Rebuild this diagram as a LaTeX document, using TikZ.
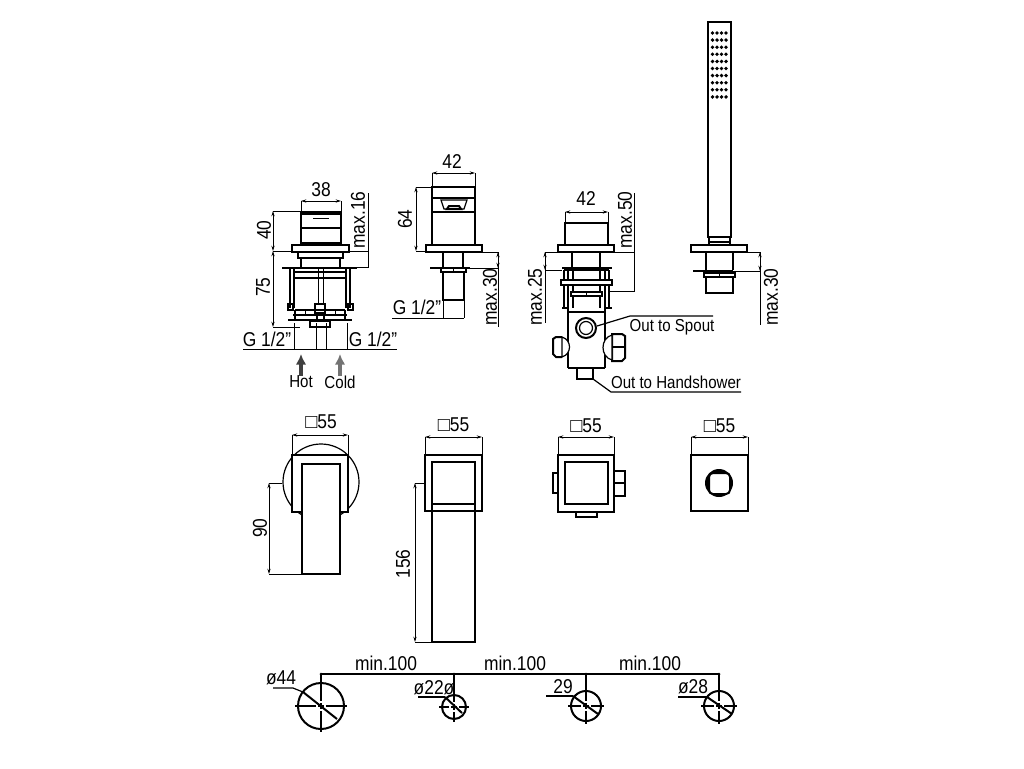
\documentclass[tikz,border=0pt]{standalone}
\usepackage{fontspec}
\setmainfont[FakeStretch=.87]{Liberation Sans}
\newfontfamily\sqfont{Liberation Sans}
\usetikzlibrary{arrows.meta}
\newcommand{\sqm}{{\sqfont □}}
\tikzset{l/.style={font=\fontsize{15}{15}\selectfont, inner sep=0pt}}
\tikzset{t/.style={l, font=\fontsize{13}{13}\selectfont}}
\tikzset{v/.style={l, rotate=90}}
\tikzset{hv/.style={line width=1.5pt}}
\tikzset{md/.style={line width=.9pt}}
\tikzset{dm/.style={line width=.6pt}}
\tikzset{dmA/.style={dm, <->, >={Stealth[length=4pt,width=2.4pt]}}}
\begin{document}
\begin{tikzpicture}[x=.75pt, y=-.75pt]
  \useasboundingbox (0,0) rectangle (1024,768);
  % first mixer, side view
  \begin{scope}
    \draw [hv] (301,212) rectangle (341,243);
    \draw [hv] (301,214) -- (341,214);
    \draw [md] (301,228) -- (341,228);
    \draw [dm] (313,218) -- (329,218);
    \draw [md] (292,245) rectangle (349,252);
    \draw [md] (298,252) rectangle (343,258);
    \draw [md] (301,258) -- (301,267) (340,258) -- (340,267);
    \draw [hv] (282,268) -- (357,268);
    \draw [md] (290,268) -- (290,308) (294,268) -- (294,308);
    \draw [md] (346,268) -- (346,308) (350,268) -- (350,308);
    \draw [hv] (294,278) -- (346,278);
    \draw [md] (294,272) -- (346,272);
    \draw [md] (318.5,268) -- (318.5,305) (323.5,268) -- (323.5,305);
    \draw [md] (288,304) rectangle (293,310) (348,304) rectangle (353,310);
    \draw [md] (315,304) rectangle (325,313);
    \draw [md] (295,310) -- (345,310) (293,315) -- (347,315);
    \draw [md] (295,310) -- (295,320) (345,310) -- (345,320);
    \draw [hv] (288,320) -- (352,320);
    \draw [md] (310,321) rectangle (330,327);
    \draw [hv] (317,313) -- (317,322) (324,313) -- (324,322);
    \draw [dm] (305,310) -- (305,315) (335,310) -- (335,315);
  \end{scope}
  \node [l] (l38) at (321,190) {38};
  \draw [dmA] (301,201) -- (341,201);
  \draw [dm] (301,201) -- (301,212) (341,201) -- (341,212);
  \node [v] (l40) at (264,230) {40};
  \node [v] (l75) at (263,287) {75};
  \node [v] (lmax16) at (358,220) {max.16};
  \draw [dmA] (273,211) -- (273,251);
  \draw [dmA] (273,251) -- (273,327);
  \draw [dm] (273,211) -- (301,211) (273,251) -- (368,251) (273,327) -- (300,327);
  \draw [dm] (368,193) -- (368,267) -- (357,267);
  \node [l] (lg1) at (267,339) {G 1/2"};
  \node [l] (lg2) at (373,339) {G 1/2"};
  \draw [dm] (243,349) -- (397,349);
  \draw [dm] (294,323) -- (294,349) (316,323) -- (316,349) (326,323) -- (326,349) (347,323) -- (347,349);
  \node [t] (lhot) at (301,382) {Hot};
  \node [t] (lcold) at (340,382) {Cold};
  \coordinate (ahot) at (301,354);
  \coordinate (acold) at (340,354);
  \draw [-{Latex[length=8pt,width=8pt]}, line width=3.4pt, color=black!75] (lhot.north) -- (ahot);
  \draw [-{Latex[length=8pt,width=8pt]}, line width=3.4pt, color=black!55] (lhot.north -| lcold) -- (acold);
  % second mixer, side view
  \begin{scope}
    \draw [md] (432,187) rectangle (475,245);
    \draw [hv] (432,187) -- (475,187);
    \draw [md] (432,198) -- (475,198) (432,212) -- (475,212);
    \draw [md] (441,200) -- (467,200) -- (464,209) -- (444,209) -- cycle;
    \draw [hv] (447,209) -- (449,206) -- (459,206) -- (461,209) -- cycle;
    \draw [md] (426,245) rectangle (482,252);
    \draw [hv] (443,252) -- (443,268) (463,252) -- (463,268);
    \draw [hv] (430,268) -- (470,268);
    \draw [md] (441,268) rectangle (466,272);
    \draw [dm] (453,268) -- (453,272);
    \draw [hv] (443,272) -- (443,300) -- (464,300) -- (464,272);
  \end{scope}
  \node [l] (l42a) at (452,162) {42};
  \draw [dmA] (432,173) -- (475,173);
  \draw [dm] (432,173) -- (432,187) (475,173) -- (475,187);
  \node [v] (l64) at (405,219) {64};
  \draw [dmA] (416,187) -- (416,251);
  \draw [dm] (416,187) -- (432,187) (416,251) -- (426,251);
  \node [l] (lg3) at (417,307) {G 1/2"};
  \draw [dm] (392,318) -- (464,318) (443,300) -- (443,318) (464,300) -- (464,318);
  \node [v] (lmax30a) at (490,297) {max.30};
  \draw [dm] (482,252) -- (498,252) -- (498,327) (470,268) -- (498,268);
  \draw [dmA] (498,252) -- (498,268);
  % third mixer with diverter
  \begin{scope}
    \draw [md] (565,223) rectangle (608,245);
    \draw [md] (558,245) rectangle (614,252);
    \draw [md] (572,252) -- (572,267) (600,252) -- (600,267);
    \draw [hv] (562,268) -- (612,268);
    \draw [md] (564,270) -- (609,270);
    \draw [md] (564,270) -- (564,308) (568,270) -- (568,308) (573,270) -- (573,308);
    \draw [md] (600,270) -- (600,308) (605,270) -- (605,308) (609,270) -- (609,308);
    \draw [md, fill=white] (561,280) rectangle (612,285);
    \draw [md, fill=white] (571,292) rectangle (602,296);
    \draw [dm] (586,292) -- (586,296);
    \draw [hv] (562,308) -- (568,308) (605,308) -- (612,308);
    \draw [md] (568,312) -- (605,312);
    \draw [md] (568,308) -- (568,368) (605,308) -- (605,368);
    \draw [hv] (568,368) -- (605,368);
    \draw [hv] (586,328) circle [radius=10];
    \draw [md] (586,328) circle [radius=6.5];
    \draw [hv, fill=white] (562,337) -- (556,337) -- (553,339) -- (553,354) -- (556,357) -- (562,357);
    \draw [md, fill=white] (562,337) .. controls (572,340) and (572,354) .. (562,357) -- cycle;
    \draw [hv, fill=white] (612,334) -- (622,334) -- (625,336) -- (625,358) -- (622,361) -- (612,361) -- cycle;
    \draw [md, fill=white] (612,335) .. controls (600,338) and (600,357) .. (612,360) -- cycle;
    \draw [md] (612,347) -- (625,347);
    \draw [hv] (577,369) -- (577,379) -- (593,379) -- (593,369);
  \end{scope}
  \node [l] (l42b) at (586,199) {42};
  \draw [dmA] (565,212) -- (608,212);
  \draw [dm] (565,212) -- (565,223) (608,212) -- (608,223);
  \node [v] (lmax50) at (625,220) {max.50};
  \draw [dm] (634,193) -- (634,291) -- (610,291) (545,252) -- (634,252);
  \node [v] (lmax25) at (535,297) {max.25};
  \draw [dm] (545,252) -- (545,323) (545,270) -- (562,270);
  \draw [dmA] (545,252) -- (545,270);
  \node [t] (lspout) at (672,327) {Out to Spout};
  \node [t] (lhand) at (676,382) {Out to Handshower};
  \coordinate (cspout) at (597,326);
  \coordinate (chand) at (593,379);
  \draw [md] (cspout) -- (630,316) -- (713,316);
  \draw [md] (chand) -- (611,392) -- (741,392);
  % hand shower
  \begin{scope}
    \draw [line width=1.7pt] (708,22) rectangle (731,237);
    \foreach \r in {0,...,9}
      \foreach \c in {0,...,3}
        \fill (712.5+\c*4.5, 33+\r*7.1) circle [radius=1.9];
    \draw [hv] (709,237) -- (730,237);
    \draw [md] (709,237) -- (709,245) (730,237) -- (730,245) (709,242) -- (730,242);
    \draw [md] (691,245) rectangle (747,252);
    \draw [hv] (706,252) -- (706,270) (733,252) -- (733,270);
    \draw [hv] (693,271) -- (733,271);
    \draw [md] (704,273) rectangle (735,277);
    \draw [dm] (719,273) -- (719,277);
    \draw [hv] (706,277) -- (706,293) -- (733,293) -- (733,277);
  \end{scope}
  \node [v] (lmax30b) at (771,297) {max.30};
  \draw [dm] (747,252) -- (760,252) -- (760,325) (733,271) -- (760,271);
  \draw [dmA] (760,252) -- (760,271);
  % top views
  \begin{scope}
    \draw [md] (321,482) circle [radius=38];
    \draw [md, fill=white] (292,455) rectangle (348,512);
    \draw [line width=1.8pt, fill=white] (302,464) rectangle (340,574);
    \draw [md] (425,455) rectangle (482,511);
    \draw [md] (432,462) rectangle (475,504);
    \draw [md] (432,504) -- (432,642) -- (475,642) -- (475,504);
    \draw [md] (558,455) rectangle (614,512);
    \draw [md] (565,462) rectangle (608,504);
    \draw [md] (558,473) -- (553,473) -- (553,493) -- (558,493);
    \draw [md] (614,471) -- (625,471) -- (625,496) -- (614,496) (614,483) -- (625,483);
    \draw [md] (576,512) -- (576,517) -- (597,517) -- (597,512);
    \draw [md] (691,455) rectangle (748,511);
    \fill (719,483) circle [radius=14];
    \draw [hv, fill=white, rounded corners=3pt] (709,473) rectangle (730,494);
  \end{scope}
  \node [l] (lsq1) at (321,422) {\sqm55};
  \draw [dmA] (292,435) -- (348,435);
  \draw [dm] (292,435) -- (292,455) (348,435) -- (348,455);
  \node [l] (lsq2) at (453.5,425) {\sqm55};
  \draw [dmA] (425,437) -- (482,437);
  \draw [dm] (425,437) -- (425,455) (482,437) -- (482,455);
  \node [l] (lsq3) at (586,426) {\sqm55};
  \draw [dmA] (558,437) -- (614,437);
  \draw [dm] (558,437) -- (558,455) (614,437) -- (614,455);
  \node [l] (lsq4) at (719.5,426) {\sqm55};
  \draw [dmA] (691,437) -- (748,437);
  \draw [dm] (691,437) -- (691,455) (748,437) -- (748,455);
  \node [v] (l90) at (260,528) {90};
  \draw [dmA] (269,483) -- (269,574);
  \draw [dm] (269,483) -- (282,483) (269,574) -- (302,574);
  \node [v] (l156) at (403,564) {156};
  \draw [dmA] (415,483) -- (415,642);
  \draw [dm] (415,483) -- (424,483) (415,642) -- (432,642);
  % holes
  \node [l] (lmin1) at (386,663) {min.100};
  \node [l] (lmin2) at (515,663) {min.100};
  \node [l] (lmin3) at (650,663) {min.100};
  \draw [md] (321,674) -- (719,674);
  \foreach \x/\y/\r in {321/706/23, 454/707/12, 586/706/15, 719/706/15} {
    \fill (\x,674) circle [radius=1.5];
    \draw [hv] (\x,\y) circle [radius=\r];
    \draw [md] (\x,674) -- (\x,{\y-5}) (\x,{\y-3}) -- (\x,{\y+3}) (\x,{\y+5}) -- (\x,{\y+\r+3});
    \draw [md] ({\x-\r-3},\y) -- ({\x-5},\y) ({\x-3},\y) -- ({\x+3},\y) ({\x+5},\y) -- ({\x+\r+3},\y);
  }
  \node [l] (ld44) at (281,678) {ø44};
  \draw [md] (273,688) -- (293,688) -- (303,692);
  \draw [hv] (303,692) -- (337,719);
  \node [l] (ld22) at (434,688) {ø22ø};
  \draw [md] (418,697) -- (445,697);
  \draw [hv] (445,697) -- (462,713);
  \node [l] (l29) at (563,687) {29};
  \draw [md] (546,696) -- (573,696);
  \draw [hv] (573,696) -- (598,714);
  \node [l] (ld28) at (693,687) {ø28};
  \draw [md] (678,697) -- (707,697);
  \draw [hv] (707,697) -- (732,714);
\end{tikzpicture}
\end{document}
